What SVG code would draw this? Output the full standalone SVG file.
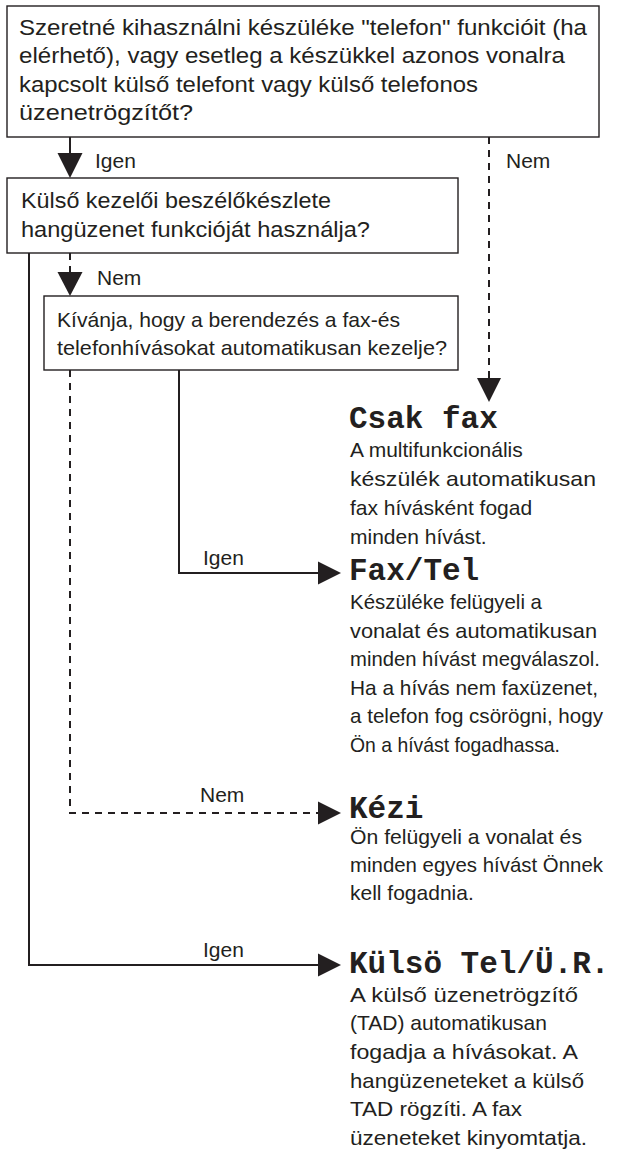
<svg xmlns="http://www.w3.org/2000/svg" width="629" height="1151" viewBox="0 0 629 1151">
<style>
.bg{fill:#ffffff}
.box{fill:#ffffff;stroke:#231f20;stroke-width:1.4}
.t{font-family:"Liberation Sans",Arial,sans-serif;font-size:21px;fill:#231f20}
.tb{font-family:"Liberation Sans",Arial,sans-serif;font-size:22px;fill:#231f20}
.lb{font-family:"Liberation Sans",Arial,sans-serif;font-size:21px;fill:#231f20}
.ti{font-family:"Liberation Mono","Courier New",monospace;font-size:31px;font-weight:bold;fill:#231f20}
.s{fill:none;stroke:#231f20;stroke-width:2}
.d{fill:none;stroke:#231f20;stroke-width:2;stroke-dasharray:7 6}
.ah{fill:#231f20}
</style>
<rect class="bg" x="0" y="0" width="629" height="1151"/>
<g id="connectors">
  <line class="s" x1="70" y1="137" x2="70" y2="154"/>
  <polygon class="ah" points="57.5,153 82.5,153 70,178"/>
  <line class="d" x1="489" y1="137" x2="489" y2="380"/>
  <polygon class="ah" points="477,378 501,378 489,402"/>
  <line class="d" x1="70" y1="253" x2="70" y2="273"/>
  <polygon class="ah" points="57.5,272 82.5,272 70,296"/>
  <polyline class="s" points="29,253 29,965 320,965"/>
  <polygon class="ah" points="318,953.5 318,976.5 341,965"/>
  <polyline class="d" points="70,370 70,813 320,813"/>
  <polygon class="ah" points="318,801.5 318,824.5 341,813"/>
  <polyline class="s" points="179,370 179,573 320,573"/>
  <polygon class="ah" points="318,561.5 318,584.5 341,573"/>
  <text class="lb" x="95" y="168">Igen</text>
  <text class="lb" x="506" y="168">Nem</text>
  <text class="lb" x="97" y="285">Nem</text>
  <text class="lb" x="203" y="565">Igen</text>
  <text class="lb" x="200" y="802">Nem</text>
  <text class="lb" x="203" y="957">Igen</text>
</g>
<g id="q1">
  <rect class="box" x="7" y="6" width="592" height="131"/>
  <text class="tb" x="19" y="35" textLength="568" lengthAdjust="spacingAndGlyphs">Szeretné kihasználni készüléke "telefon" funkcióit (ha</text>
  <text class="tb" x="19" y="63" textLength="546" lengthAdjust="spacingAndGlyphs">elérhető), vagy esetleg a készükkel azonos vonalra</text>
  <text class="tb" x="19" y="92" textLength="459" lengthAdjust="spacingAndGlyphs">kapcsolt külső telefont vagy külső telefonos</text>
  <text class="tb" x="19" y="120" textLength="174" lengthAdjust="spacingAndGlyphs">üzenetrögzítőt?</text>
</g>
<g id="q2">
  <rect class="box" x="7" y="178" width="451" height="75"/>
  <text class="tb" x="21" y="208" textLength="310" lengthAdjust="spacingAndGlyphs">Külső kezelői beszélőkészlete</text>
  <text class="tb" x="21" y="237" textLength="349" lengthAdjust="spacingAndGlyphs">hangüzenet funkcióját használja?</text>
</g>
<g id="q3">
  <rect class="box" x="44" y="296" width="414" height="74"/>
  <text class="t" x="57" y="327" textLength="343" lengthAdjust="spacingAndGlyphs">Kívánja, hogy a berendezés a fax-és</text>
  <text class="t" x="57" y="355" textLength="390" lengthAdjust="spacingAndGlyphs">telefonhívásokat automatikusan kezelje?</text>
</g>
<g id="csakfax">
  <text class="ti" x="349" y="428">Csak fax</text>
  <text class="t" x="350" y="457">A multifunkcionális</text>
  <text class="t" x="350" y="486" textLength="246" lengthAdjust="spacingAndGlyphs">készülék automatikusan</text>
  <text class="t" x="350" y="515">fax hívásként fogad</text>
  <text class="t" x="350" y="544">minden hívást.</text>
</g>
<g id="faxtel">
  <text class="ti" x="349" y="580">Fax/Tel</text>
  <text class="t" x="350" y="609" textLength="192" lengthAdjust="spacingAndGlyphs">Készüléke felügyeli a</text>
  <text class="t" x="350" y="638" textLength="247" lengthAdjust="spacingAndGlyphs">vonalat és automatikusan</text>
  <text class="t" x="350" y="666" textLength="250" lengthAdjust="spacingAndGlyphs">minden hívást megválaszol.</text>
  <text class="t" x="350" y="695" textLength="248" lengthAdjust="spacingAndGlyphs">Ha a hívás nem faxüzenet,</text>
  <text class="t" x="350" y="723" textLength="253" lengthAdjust="spacingAndGlyphs">a telefon fog csörögni, hogy</text>
  <text class="t" x="350" y="752" textLength="210" lengthAdjust="spacingAndGlyphs">Ön a hívást fogadhassa.</text>
</g>
<g id="kezi">
  <text class="ti" x="349" y="818">Kézi</text>
  <text class="t" x="350" y="844" textLength="232" lengthAdjust="spacingAndGlyphs">Ön felügyeli a vonalat és</text>
  <text class="t" x="350" y="872" textLength="253" lengthAdjust="spacingAndGlyphs">minden egyes hívást Önnek</text>
  <text class="t" x="350" y="900">kell fogadnia.</text>
</g>
<g id="kulso">
  <text class="ti" x="349" y="973">Külsö Tel/Ü.R.</text>
  <text class="t" x="350" y="1002" textLength="228" lengthAdjust="spacingAndGlyphs">A külső üzenetrögzítő</text>
  <text class="t" x="350" y="1030" textLength="197" lengthAdjust="spacingAndGlyphs">(TAD) automatikusan</text>
  <text class="t" x="350" y="1059" textLength="228" lengthAdjust="spacingAndGlyphs">fogadja a hívásokat. A</text>
  <text class="t" x="350" y="1088" textLength="234" lengthAdjust="spacingAndGlyphs">hangüzeneteket a külső</text>
  <text class="t" x="350" y="1116" textLength="172" lengthAdjust="spacingAndGlyphs">TAD rögzíti. A fax</text>
  <text class="t" x="350" y="1145" textLength="237" lengthAdjust="spacingAndGlyphs">üzeneteket kinyomtatja.</text>
</g>
</svg>
